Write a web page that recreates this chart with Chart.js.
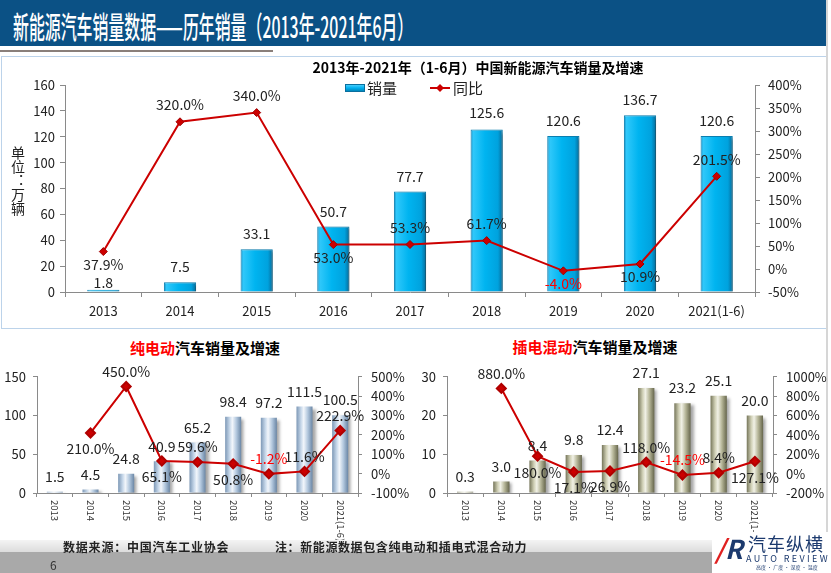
<!DOCTYPE html>
<html>
<head>
<meta charset="utf-8">
<script src="https://cdn.jsdelivr.net/npm/chart.js@4.4.1/dist/chart.umd.min.js"></script>
<style>
  body { margin: 0; width: 831px; height: 573px; overflow: hidden; background: #fff; position: relative;
         font-family: 'Noto Sans CJK SC', 'Noto Sans', sans-serif; }
  .abs { position: absolute; }
  #header { left: 0; top: 0; width: 826px; height: 46px; background: #0b5185; }
  #header span { position: absolute; left: 13px; top: 10px; color: #fff; font-size: 30px; line-height: 30px; font-weight: 500;
                 white-space: nowrap; transform: scaleX(0.53); transform-origin: left center; }
  #rule { left: 0; top: 50px; width: 273px; height: 2px; background: #8a7f7a; }
  #edge { left: 826px; top: 0; width: 2px; height: 573px; background: #d6d6d6; }
  #panel { left: 1px; top: 56px; width: 824px; height: 271px; border: 1px solid #bcd3ea; }
  .ctitle { font-weight: 700; color: #000; white-space: nowrap; transform: translateX(-50%); }
  .red { color: #ff0000; }
  #unit { left: 10px; top: 146px; writing-mode: vertical-rl; font-size: 14px; color: #222; line-height: 16px; }
  #foot1 { left: 0; top: 540px; width: 826px; height: 12px; background: linear-gradient(#f4f4f4, #dcdcdc); }
  #foot2 { left: 0; top: 552px; width: 826px; height: 21px; background: #a9a9a9; }
  #src { left: 63px; top: 538px; font-size: 12px; font-weight: 700; color: #222; letter-spacing: 0.8px; white-space: nowrap; }
  #note { left: 275px; top: 538px; font-size: 12px; font-weight: 700; color: #222; letter-spacing: 0.6px; white-space: nowrap; }
  #page { left: 50px; top: 556px; font-size: 12px; color: #333; }
  #logo { left: 712px; top: 532px; width: 119px; height: 41px; background: #fff; }
  #logo .mark { position: absolute; left: 3px; top: 2px; font-size: 26px; font-weight: 700; font-style: italic; line-height: 28px; }
  #logo .cn { position: absolute; left: 36px; top: 0px; font-size: 18px; color: #1c3a6e; letter-spacing: 1px; line-height: 22px; }
  #logo .en { position: absolute; left: 34px; top: 21px; font-size: 9px; color: #1c3a6e; letter-spacing: 2.4px; line-height: 11px; }
  #logo .tag { position: absolute; left: 44px; top: 32px; font-size: 5px; color: #1c3a6e; line-height: 6px; }
  canvas { position: absolute; }
</style>
</head>
<body>
<div id="header" class="abs"><span>新能源汽车销量数据——历年销量（2013年-2021年6月）</span></div>
<div id="rule" class="abs"></div>
<div id="panel" class="abs"></div>
<div id="edge" class="abs"></div>

<canvas id="mainChart" width="826" height="268" style="left:0;top:58px"></canvas>
<div class="abs ctitle" style="left:478px;top:57px;font-size:14px">2013年-2021年（1-6月）中国新能源汽车销量及增速</div>
<div id="unit" class="abs">单位：万辆</div>

<canvas id="bevChart" width="410" height="182" style="left:0;top:360px"></canvas>
<div class="abs ctitle" style="left:205px;top:337px;font-size:15px"><span class="red">纯电动</span>汽车销量及增速</div>

<canvas id="phevChart" width="421" height="182" style="left:410px;top:360px"></canvas>
<div class="abs ctitle" style="left:595px;top:336px;font-size:15px"><span class="red">插电混动</span>汽车销量及增速</div>

<div id="foot1" class="abs"></div>
<div id="foot2" class="abs"></div>
<div id="src" class="abs">数据来源：中国汽车工业协会</div>
<div id="note" class="abs">注：新能源数据包含纯电动和插电式混合动力</div>
<div id="page" class="abs">6</div>
<div id="logo" class="abs">
  <div class="mark"><span style="color:#e02020">/</span><span style="color:#1c3a6e">R</span></div>
  <div class="cn">汽车纵横</div>
  <div class="en">AUTO REVIEW</div>
  <div class="tag">高度 · 广度 · 深度 · 温度</div>
</div>

<script>
// data
const years = ["2013", "2014", "2015", "2016", "2017", "2018", "2019", "2020", "2021(1-6)"];

// new energy vehicles total (万辆) and yoy growth (%)
const nevSales = [1.8, 7.5, 33.1, 50.7, 77.7, 125.6, 120.6, 136.7, 120.6];
const nevGrowth = [37.9, 320.0, 340.0, 53.0, 53.3, 61.7, -4.0, 10.9, 201.5];

// battery electric
const bevSales = [1.5, 4.5, 24.8, 40.9, 65.2, 98.4, 97.2, 111.5, 100.5];
const bevGrowth = [null, 210.0, 450.0, 65.1, 59.6, 50.8, -1.2, 11.6, 222.9];

// plug-in hybrid
const phevSales = [0.3, 3.0, 8.4, 9.8, 12.4, 27.1, 23.2, 25.1, 20.0];
const phevGrowth = [null, 880.0, 180.0, 17.1, 26.9, 118.0, -14.5, 8.4, 127.1];

// where each growth label sits relative to its point (a = above, b = below)
const nevLabelSide = ["b", "a", "a", "b", "a", "a", "b", "b", "a"];
const bevLabelSide = ["a", "b", "a", "b", "a", "b", "a", "a", "a"];
const phevLabelSide = ["a", "a", "b", "b", "b", "a", "a", "a", "b"];

const FONT = "'Noto Sans CJK SC', 'Noto Sans', sans-serif";
const AXIS = "#8a8a8a";
const LINE_RED = "#cc0000";

Chart.defaults.font.family = FONT;
Chart.defaults.color = "#222";

// horizontal gradient per bar so each one looks like a rounded column
function barGradient(stops, pct) {
  return function (c) {
    const chart = c.chart;
    if (c.type !== "data" || !chart.chartArea) return stops[2][1];
    const xs = chart.scales.x;
    const cx = xs.getPixelForValue(c.dataIndex);
    const w = (xs.width / chart.data.labels.length) * pct;
    const g = chart.ctx.createLinearGradient(cx - w / 2, 0, cx + w / 2, 0);
    stops.forEach((s) => g.addColorStop(s[0], s[1]));
    return g;
  };
}

const barShadow = {
  id: "barShadow",
  beforeDatasetDraw(chart, args) {
    if (args.meta.type !== "bar") return;
    const c = chart.ctx;
    c.save();
    c.shadowColor = "rgba(0,0,0,0.35)";
    c.shadowOffsetX = 3;
    c.shadowOffsetY = 2;
    c.shadowBlur = 3;
  },
  afterDatasetDraw(chart, args) {
    if (args.meta.type === "bar") chart.ctx.restore();
  },
};

// value labels on bars and growth points
const valueLabels = {
  id: "valueLabels",
  afterDatasetsDraw(chart, args, opts) {
    const ctx = chart.ctx;
    ctx.save();
    ctx.font = opts.size + "px " + FONT;
    ctx.textAlign = "center";
    ctx.textBaseline = "middle";
    chart.data.datasets.forEach((ds, di) => {
      const meta = chart.getDatasetMeta(di);
      meta.data.forEach((el, i) => {
        const v = ds.data[i];
        if (v === null || v === undefined) return;
        if (ds.type === "bar") {
          const gap = opts.barGaps ? opts.barGaps[i] : opts.barGap;
          ctx.fillStyle = "#222";
          ctx.fillText(v.toFixed(1), el.x, el.y - gap);
        } else {
          const up = opts.side[i] === "a";
          ctx.fillStyle = v < 0 ? "#ff0000" : "#222";
          ctx.fillText(v.toFixed(1) + "%", el.x, el.y + (up ? -opts.upGap : opts.downGap));
        }
      });
    });
    ctx.restore();
  },
};

// legend for the big chart, drawn inside the plot
const innerLegend = {
  id: "innerLegend",
  afterDraw(chart) {
    const ctx = chart.ctx;
    const y = 30;
    ctx.save();
    const g = ctx.createLinearGradient(0, y - 4, 0, y + 4);
    g.addColorStop(0, "#5fd6ff");
    g.addColorStop(0.5, "#00b0f0");
    g.addColorStop(1, "#0078a8");
    ctx.fillStyle = g;
    ctx.fillRect(345, y - 4, 20, 8);
    ctx.strokeStyle = "#0a6f9e";
    ctx.lineWidth = 1;
    ctx.strokeRect(345.5, y - 3.5, 19, 7);
    ctx.font = "15px " + FONT;
    ctx.fillStyle = "#222";
    ctx.textBaseline = "middle";
    ctx.fillText(chart.data.datasets[0].label, 367, y);
    ctx.strokeStyle = LINE_RED;
    ctx.lineWidth = 2;
    ctx.beginPath();
    ctx.moveTo(430, y);
    ctx.lineTo(450, y);
    ctx.stroke();
    ctx.fillStyle = LINE_RED;
    ctx.beginPath();
    ctx.moveTo(440, y - 4);
    ctx.lineTo(444, y);
    ctx.lineTo(440, y + 4);
    ctx.lineTo(436, y);
    ctx.closePath();
    ctx.fill();
    ctx.fillStyle = "#222";
    ctx.fillText(chart.data.datasets[1].label, 453, y);
    ctx.restore();
  },
};

// small charts: year labels turned a quarter clockwise
const vertTicks = {
  id: "vertTicks",
  afterDraw(chart) {
    const xs = chart.scales.x;
    const ctx = chart.ctx;
    ctx.save();
    ctx.font = "9.5px " + FONT;
    ctx.fillStyle = "#333";
    ctx.textAlign = "left";
    ctx.textBaseline = "middle";
    chart.data.labels.forEach((l, i) => {
      ctx.save();
      ctx.translate(xs.getPixelForValue(i), xs.bottom - xs.height + 7);
      ctx.rotate(Math.PI / 2);
      ctx.fillText(l, 0, 0);
      ctx.restore();
    });
    ctx.restore();
  },
};

function axisBase(tickLen) {
  return {
    border: { display: true, color: AXIS, width: 1 },
    grid: { display: true, drawOnChartArea: false, drawTicks: true, tickLength: tickLen, color: AXIS },
  };
}

// ---- big chart ----
const cyanStops = [
  [0, "#1488c0"], [0.08, "#30c8fa"], [0.45, "#00b4f0"], [0.85, "#00a2de"], [1, "#076a98"],
];

new Chart(document.getElementById("mainChart"), {
  type: "bar",
  data: {
    labels: years,
    datasets: [
      {
        type: "bar",
        label: "销量",
        data: nevSales,
        yAxisID: "y",
        order: 1,
        backgroundColor: barGradient(cyanStops, 0.42),
        borderColor: "#0a7fb0",
        borderWidth: 1,
        categoryPercentage: 0.42,
        barPercentage: 1,
      },
      {
        type: "line",
        label: "同比",
        data: nevGrowth,
        yAxisID: "y1",
        order: 0,
        borderColor: LINE_RED,
        borderWidth: 2,
        pointStyle: "rectRot",
        pointRadius: 4,
        pointBackgroundColor: LINE_RED,
        pointBorderColor: "#a00000",
        pointBorderWidth: 1,
        tension: 0,
      },
    ],
  },
  options: {
    responsive: false,
    animation: false,
    layout: { padding: { top: 27, left: 0, right: 0, bottom: 0 } },
    plugins: {
      legend: { display: false },
      tooltip: { enabled: false },
      valueLabels: {
        size: 14, upGap: 17, downGap: 13, side: nevLabelSide,
        barGaps: [7, 16, 15, 15, 15, 17, 15, 15, 15],
      },
    },
    scales: {
      x: Object.assign(axisBase(5), {
        ticks: { font: { size: 13 }, color: "#222", padding: 6, maxRotation: 0 },
        afterFit: (s) => { s.height = 34; },
      }),
      y: Object.assign(axisBase(5), {
        position: "left",
        min: 0, max: 160,
        ticks: { stepSize: 20, font: { size: 13 }, color: "#222", padding: 5 },
        afterFit: (s) => { s.width = 65; },
      }),
      y1: Object.assign(axisBase(5), {
        position: "right",
        min: -50, max: 400,
        ticks: { stepSize: 50, font: { size: 13 }, color: "#222", padding: 8, callback: (v) => v + "%" },
        afterFit: (s) => { s.width = 71; },
      }),
    },
  },
  plugins: [barShadow, valueLabels, innerLegend],
});

// ---- small charts ----
function smallChart(id, sales, growth, side, stops, yMax, yStep, rMin, rMax, rStep, leftW, rightW, topPad) {
  return new Chart(document.getElementById(id), {
    type: "bar",
    data: {
      labels: years,
      datasets: [
        {
          type: "bar",
          label: "销量",
          data: sales,
          yAxisID: "y",
          order: 1,
          backgroundColor: barGradient(stops, 0.45),
          borderWidth: 0,
          categoryPercentage: 0.45,
          barPercentage: 1,
        },
        {
          type: "line",
          label: "增速",
          data: growth,
          yAxisID: "y1",
          order: 0,
          borderColor: LINE_RED,
          borderWidth: 2,
          pointStyle: "rectRot",
          pointRadius: 4.5,
          pointBackgroundColor: LINE_RED,
          pointBorderColor: "#b00000",
          tension: 0,
          spanGaps: false,
        },
      ],
    },
    options: {
      responsive: false,
      animation: false,
      layout: { padding: { top: topPad, left: 0, right: 0, bottom: 0 } },
      plugins: {
        legend: { display: false },
        tooltip: { enabled: false },
        valueLabels: { size: 14, barGap: 15, upGap: 15, downGap: 16, side: side },
      },
      scales: {
        x: Object.assign(axisBase(4), {
          ticks: { display: false },
          afterFit: (s) => { s.height = 49; },
        }),
        y: Object.assign(axisBase(4), {
          position: "left",
          min: 0, max: yMax,
          ticks: { stepSize: yStep, font: { size: 13 }, color: "#222", padding: 7 },
          afterFit: (s) => { s.width = leftW; },
        }),
        y1: Object.assign(axisBase(4), {
          position: "right",
          min: rMin, max: rMax,
          ticks: { stepSize: rStep, font: { size: 13 }, color: "#222", padding: 9, callback: (v) => v + "%" },
          afterFit: (s) => { s.width = rightW; },
        }),
      },
    },
    plugins: [barShadow, valueLabels, vertTicks],
  });
}

const steelStops = [
  [0, "#7d98b6"], [0.28, "#c6d7e9"], [0.45, "#f2f6fb"], [0.7, "#b3c8de"], [1, "#6a86a5"],
];
const oliveStops = [
  [0, "#76765a"], [0.28, "#d0d0b6"], [0.45, "#f1f1e6"], [0.7, "#b5b597"], [1, "#66664c"],
];

smallChart("bevChart", bevSales, bevGrowth, bevLabelSide, steelStops, 150, 50, -100, 500, 100, 37, 52, 11);
smallChart("phevChart", phevSales, phevGrowth, phevLabelSide, oliveStops, 30, 10, -200, 1000, 200, 37, 58, 14);
</script>
</body>
</html>
